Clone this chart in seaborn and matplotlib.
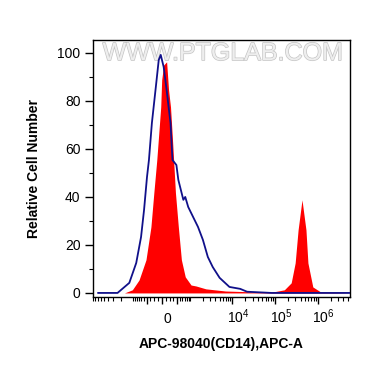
import numpy as np
import seaborn as sns
import matplotlib
matplotlib.use("Agg")
import matplotlib.pyplot as plt
import matplotlib.patheffects as pe
from matplotlib.transforms import ScaledTranslation

# stained sample (red filled histogram)
red_x = [-6900, -1625, -1035, -688, -423, -273, -194, -119, -23, 0, 47, 119, 168, 219, 273,
         360, 454, 565, 728, 1035, 1376, 2380, 6914, 57300, 83000, 165000, 239000, 296000,
         347000, 428000, 530000, 589000, 767000, 1172000, 5700000]
red_y = [0, 0, 1.3, 5.4, 13.8, 27.5, 41.7, 55.4, 77.5, 88.8, 95, 96.3, 84.6, 77.5, 63.8,
         41.7, 27.5, 13.8, 6.7, 3.3, 2.9, 1.7, 0.8, 0.3, 0.3, 1.3, 4.2, 12.5,
         26.3, 38.8, 26.3, 12.5, 2.5, 0.4, 0]

# control (blue outline)
blue_x = [-6900, -2380, -1234, -820, -603, -489, -390, -330, -246, -143, -71, -23, 47, 119,
          219, 273, 390, 454, 644, 728, 875, 1163, 1541, 2025, 2650, 3463, 5030, 8556,
          15300, 22150, 48970, 83000, 5700000]
blue_y = [0, 0, 4.2, 12.5, 23.3, 34.6, 48.3, 55.4, 70.8, 85.8, 97.1, 99.2, 94.2, 84.6,
          70.8, 55.4, 53.3, 47.1, 38.8, 40, 35.8, 31.7, 27.5, 22.1, 15, 10.8, 6.3, 2.5,
          1.7, 0.5, 0.2, 0, 0]

x_major = [-400, 0, 400, 1e4, 1e5, 1e6]
x_major_labels = ["", "0", "", "$10^4$", "$10^5$", "$10^6$"]

sns.set_style("ticks")
plt.rcParams["font.family"] = ["Liberation Sans", "DejaVu Sans"]
plt.rcParams["mathtext.fontset"] = "custom"
plt.rcParams["mathtext.rm"] = "Liberation Sans"
plt.rcParams["mathtext.it"] = "Liberation Sans"
for k in ["text.color", "axes.labelcolor", "xtick.color", "ytick.color", "axes.edgecolor"]:
    plt.rcParams[k] = "black"

fig = plt.figure(figsize=(3.7, 3.67), dpi=100)
ax = fig.add_axes([0.2514, 0.1907, 0.6946, 0.7003])

c = 444.0
ax.set_xscale("function", functions=(lambda v: np.arcsinh(v / c), lambda u: c * np.sinh(u)))

ax.fill_between(red_x, red_y, 0, color="#ff0000", linewidth=0, zorder=2)
sns.lineplot(x=blue_x, y=blue_y, sort=False, estimator=None, color="#10108a",
             linewidth=1.3, ax=ax, zorder=3)

ax.set_xlim(-6900, 5700000)
ax.set_ylim(-1.7, 105.4)

# x ticks
ax.set_xticks(x_major)
ax.set_xticklabels(x_major_labels)
minor = []
for s in [-1, 1]:
    minor += [s * m * 100 for m in range(1, 10) if m != 4]
    minor += [s * m * 1000 for m in range(1, 10)]
for d in [1e4, 1e5, 1e6]:
    minor += [m * d for m in range(2, 10) if m * d < 5.7e6]
ax.set_xticks(minor, minor=True)
ax.tick_params(axis="x", which="major", length=5, width=1, pad=13.5, labelsize=10,
               direction="out", color="black")
ax.tick_params(axis="x", which="minor", length=3, width=0.8, direction="out", color="black")
for lab in ax.get_xticklabels():
    lab.set_verticalalignment("baseline")
    lab.set_transform(lab.get_transform() + ScaledTranslation(0.06, 0, fig.dpi_scale_trans))

# y ticks
ax.set_yticks([0, 20, 40, 60, 80, 100])
ax.set_yticks(np.arange(10, 101, 20), minor=True)
ax.tick_params(axis="y", which="major", length=6, width=1, pad=3, labelsize=10,
               direction="out", color="black")
ax.tick_params(axis="y", which="minor", length=3, width=0.8, direction="out", color="black")

for sp in ax.spines.values():
    sp.set_visible(True)
    sp.set_color("black")
    sp.set_linewidth(1)

ax.set_xlabel("APC-98040(CD14),APC-A", fontsize=10, fontweight="bold", labelpad=8)
ax.set_ylabel("Relative Cell Number", fontsize=10, fontweight="bold", labelpad=12)

wm = ax.text(0.504, 0.949, "WWW.PTGLAB.COM", transform=ax.transAxes, ha="center",
             va="center", fontsize=18, color="#eeeeee", zorder=1)
wm.set_path_effects([pe.withStroke(linewidth=1.0, foreground="#c4c4c4")])

fig.savefig("out.png", dpi=100)
